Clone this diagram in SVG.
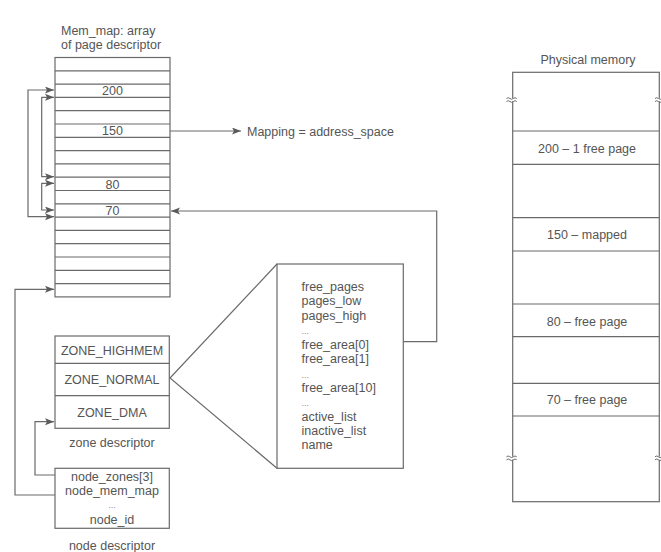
<svg xmlns="http://www.w3.org/2000/svg" width="661" height="552" viewBox="0 0 661 552">
<style>
.box{fill:#ffffff;stroke:#6a6a6a;stroke-width:1.2}
.ln{fill:none;stroke:#6a6a6a;stroke-width:1.2}
.t{font-family:"Liberation Sans",Arial,sans-serif;font-size:12.5px;fill:#555555}
.c{text-anchor:middle}
.arr{fill:none;stroke:#6a6a6a;stroke-width:1.2;marker-end:url(#ah)}
.arr2{fill:none;stroke:#6a6a6a;stroke-width:1.2;marker-end:url(#ah);marker-start:url(#ahs)}
.brk{fill:none;stroke:#6a6a6a;stroke-width:1}
</style>
<defs>
<marker id="ah" markerUnits="userSpaceOnUse" markerWidth="10" markerHeight="8" refX="9" refY="3.5" orient="auto"><path d="M0,0 L9,3.5 L0,7 L2,3.5 z" fill="#5a5a5a"/></marker>
<marker id="ahs" markerUnits="userSpaceOnUse" markerWidth="10" markerHeight="8" refX="9" refY="3.5" orient="auto-start-reverse"><path d="M0,0 L9,3.5 L0,7 L2,3.5 z" fill="#5a5a5a"/></marker>
</defs>
<rect width="661" height="552" fill="#ffffff"/>

<g id="mem_map">
<text class="t" x="61" y="34.5">Mem_map: array</text>
<text class="t" x="61" y="48.5">of page descriptor</text>
<rect class="box" x="55" y="57.5" width="115" height="239.4"/>
<path class="ln" d="M55,70.8H170M55,84.1H170M55,97.4H170M55,110.7H170M55,124H170M55,137.3H170M55,150.6H170M55,163.9H170M55,177.2H170M55,190.5H170M55,203.8H170M55,217.1H170M55,230.4H170M55,243.7H170M55,257H170M55,270.3H170M55,283.6H170"/>
<text class="t c" x="112.5" y="95">200</text>
<text class="t c" x="112.5" y="135">150</text>
<text class="t c" x="112.5" y="188.5">80</text>
<text class="t c" x="112.5" y="215">70</text>
</g>

<g id="mapping_label">
<text class="t" x="247" y="135.5">Mapping = address_space</text>
</g>

<g id="zone_descriptor">
<rect class="box" x="55" y="336" width="114.3" height="92.3"/>
<path class="ln" d="M55,363.3H169.3M55,395.7H169.3"/>
<text class="t c" x="112" y="354.5">ZONE_HIGHMEM</text>
<text class="t c" x="112" y="384">ZONE_NORMAL</text>
<text class="t c" x="112" y="416.5">ZONE_DMA</text>
<text class="t c" x="112" y="447">zone descriptor</text>
</g>

<g id="node_descriptor">
<rect class="box" x="55" y="468.3" width="114.3" height="60"/>
<text class="t c" x="112" y="481">node_zones[3]</text>
<text class="t c" x="112" y="495">node_mem_map</text>
<text class="t c" x="112" y="508" style="font-size:9px;fill:#888">...</text>
<text class="t c" x="112" y="524">node_id</text>
<text class="t c" x="112" y="549.5">node descriptor</text>
</g>

<g id="zone_struct">
<rect class="box" x="277" y="264" width="126.3" height="204.3"/>
<text class="t" x="301.5" y="290.5">free_pages</text>
<text class="t" x="301.5" y="305">pages_low</text>
<text class="t" x="301.5" y="319.5">pages_high</text>
<text class="t" x="301.5" y="333.5" style="font-size:9px;fill:#888">...</text>
<text class="t" x="301.5" y="349">free_area[0]</text>
<text class="t" x="301.5" y="363">free_area[1]</text>
<text class="t" x="301.5" y="377.5" style="font-size:9px;fill:#888">...</text>
<text class="t" x="301.5" y="392">free_area[10]</text>
<text class="t" x="301.5" y="406" style="font-size:9px;fill:#888">...</text>
<text class="t" x="301.5" y="420.5">active_list</text>
<text class="t" x="301.5" y="435">inactive_list</text>
<text class="t" x="301.5" y="449">name</text>
</g>

<g id="physical_memory">
<text class="t c" x="588" y="63.5">Physical memory</text>
<rect class="box" x="512.7" y="72.3" width="146.6" height="429.4"/>
<path class="ln" d="M512.7,131H659.3M512.7,164.3H659.3M512.7,217.7H659.3M512.7,251H659.3M512.7,304H659.3M512.7,336.7H659.3M512.7,383.3H659.3M512.7,416H659.3"/>
<text class="t c" x="587" y="152.5">200 – 1 free page</text>
<text class="t c" x="587" y="238.5">150 – mapped</text>
<text class="t c" x="587" y="325.5">80 – free page</text>
<text class="t c" x="587" y="404">70 – free page</text>
<rect x="509" y="98.2" width="8" height="3.2" fill="#ffffff"/>
<path class="brk" d="M506.5,98.5q1.7,-1.6 3.4,0t3.4,0t3.4,0M506.5,101.5q1.7,-1.6 3.4,0t3.4,0t3.4,0"/>
<rect x="655.5" y="98.2" width="6" height="3.2" fill="#ffffff"/>
<path class="brk" d="M655,98.5q1.7,-1.6 3.4,0t3.4,0M655,101.5q1.7,-1.6 3.4,0t3.4,0"/>
<rect x="509" y="456.6" width="8" height="3.2" fill="#ffffff"/>
<path class="brk" d="M506.5,456.8q1.7,-1.6 3.4,0t3.4,0t3.4,0M506.5,459.8q1.7,-1.6 3.4,0t3.4,0t3.4,0"/>
<rect x="655.5" y="456.6" width="6" height="3.2" fill="#ffffff"/>
<path class="brk" d="M655,456.8q1.7,-1.6 3.4,0t3.4,0M655,459.8q1.7,-1.6 3.4,0t3.4,0"/>
</g>

<g id="connectors">
<path class="arr2" d="M54,90H28V216.7H54"/>
<path class="arr2" d="M54,97.3H41.7V176.7H54"/>
<path class="arr2" d="M54,183.3H41.7V210H54"/>
<path class="arr" d="M170,131H241"/>
<path class="arr" d="M403.3,341.7H436.7V211H171"/>
<path class="ln" d="M277,264L170,378L277,468.3"/>
<path class="arr" d="M55,475H35V421.7H54"/>
<path class="arr" d="M55,495H15V289.3H54"/>
</g>
</svg>
